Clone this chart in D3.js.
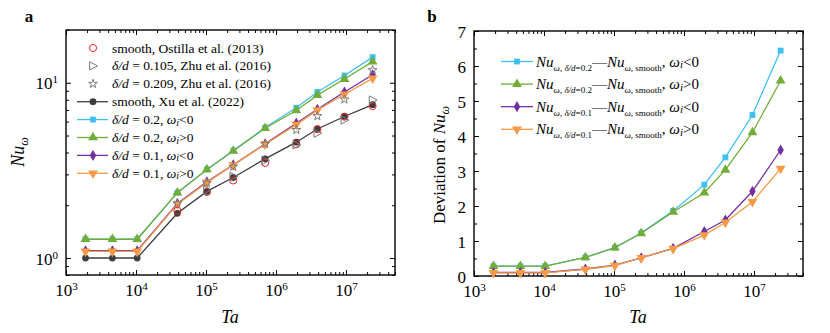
<!DOCTYPE html>
<html><head><meta charset="utf-8">
<script src="https://cdn.jsdelivr.net/npm/d3@7"></script>
<style>
html,body{margin:0;padding:0;background:#fff;}
svg{display:block;font-family:"Liberation Serif","Times New Roman",serif;}
</style></head>
<body><svg id="chart" width="830" height="333"></svg>
<script>
// ---------- data ----------
const ta = [1.9e3, 4.6e3, 1.04e4, 3.9e4, 1.03e5, 2.45e5, 7e5, 1.95e6, 3.9e6, 9.5e6, 2.4e7];
const nuSmoothXu = [1.0, 1.0, 1.0, 1.80, 2.40, 2.88, 3.68, 4.58, 5.45, 6.42, 7.5];
const nuD02Neg   = [1.28, 1.28, 1.28, 2.36, 3.2, 4.1, 5.55, 7.2, 8.86, 11.0, 14.0];
const nuD02Pos   = [1.28, 1.28, 1.28, 2.36, 3.2, 4.08, 5.5, 6.95, 8.5, 10.5, 13.2];
const nuD01Neg   = [1.1, 1.1, 1.1, 2.05, 2.72, 3.4, 4.48, 5.88, 7.06, 8.86, 11.1];
const nuD01Pos   = [1.09, 1.09, 1.09, 2.03, 2.70, 3.4, 4.46, 5.77, 6.98, 8.6, 10.6];
const taOstilla  = [3.9e4, 1.03e5, 2.45e5, 7e5, 1.95e6, 3.9e6, 9.5e6, 2.4e7];
const nuOstilla  = [1.86, 2.38, 2.77, 3.49, 4.46, 5.43, 6.40, 7.36];
const taZhu105   = [1.03e5, 2.45e5, 7e5, 1.95e6, 3.9e6, 9.5e6, 2.4e7];
const nuZhu105   = [2.45, 2.92, 3.6, 4.42, 5.15, 6.13, 7.97];
const taZhu209   = [3.9e4, 1.03e5, 2.45e5, 7e5, 1.95e6, 3.9e6, 9.5e6, 2.4e7];
const nuZhu209   = [2.05, 2.68, 3.32, 4.48, 5.38, 6.46, 8.04, 11.8];
const devD02Neg  = [0.28, 0.28, 0.28, 0.53, 0.81, 1.23, 1.86, 2.61, 3.39, 4.6, 6.44];
const devD02Pos  = [0.28, 0.28, 0.28, 0.53, 0.81, 1.22, 1.83, 2.38, 3.03, 4.1, 5.58];
const devD01Neg  = [0.10, 0.10, 0.10, 0.20, 0.31, 0.52, 0.79, 1.27, 1.60, 2.42, 3.6];
const devD01Pos  = [0.09, 0.09, 0.09, 0.19, 0.30, 0.52, 0.78, 1.17, 1.53, 2.12, 3.07];
const xMajorTicks = [1e3, 1e4, 1e5, 1e6, 1e7];
const yMajorTicksA = [1, 10];
const yTicksB = [0, 1, 2, 3, 4, 5, 6, 7];

// ---------- styles ----------
const FONT = "Liberation Serif";
const C = {black:"#3d3d3d", cyan:"#3fc1ef", green:"#72ad3a", purple:"#7330a0", orange:"#f79a46", red:"#e8262b", grey:"#7a7a7a"};
const svg = d3.select("#chart");

function minorLog(lo, hi){
  const out=[];
  for(let e=Math.floor(Math.log10(lo)); e<=Math.ceil(Math.log10(hi)); e++){
    for(let k=2;k<=9;k++){const v=k*Math.pow(10,e); if(v>=lo*0.999 && v<=hi*1.001) out.push(v);}
  }
  return out;
}
function supLabels(g){
  g.selectAll(".tick text").each(function(d){
    const t=d3.select(this); t.text(null);
    t.append("tspan").text("10");
    t.append("tspan").attr("dy","-0.55em").attr("font-size","11px").text(Math.round(Math.log10(d)));
  });
}
function styleAxis(g){
  g.attr("font-family",FONT).attr("font-size",17);
  g.select(".domain").remove();
  g.selectAll(".tick line").attr("stroke","#000").attr("stroke-width",1);
  g.selectAll(".tick text").attr("fill","#000").attr("font-size","17px").attr("font-family",FONT);
}
function triRight(size){
  const s=size; return `M${s*0.6},0L${-s*0.45},${-s*0.55}L${-s*0.45},${s*0.55}Z`;
}
const sym = {
  square: d3.symbol(d3.symbolSquare, 34)(),
  triUp: d3.symbol(d3.symbolTriangle, 42)(),
  triDown: d3.symbol(d3.symbolTriangle, 42)(),
  diamond: d3.symbol(d3.symbolDiamond, 36)(),
  circle: d3.symbol(d3.symbolCircle, 36)(),
  ocircle: d3.symbol(d3.symbolCircle, 40)(),
  star: d3.symbol(d3.symbolStar, 24)(),
  triR: triRight(7.5)
};
function marker(g, type, x, y, color){
  const p=g.append("path").attr("d",sym[type]).attr("transform",`translate(${x},${y})${type==="triDown"?" rotate(180)":""}`);
  if(type==="ocircle"||type==="star"||type==="triR"){
    p.attr("fill","none").attr("stroke",color).attr("stroke-width",1);
  } else p.attr("fill",color);
}
function series(g, xs, ys, x, y, color, type, withLine){
  if(withLine){
    g.append("path").datum(xs.map((d,i)=>[d,ys[i]]))
      .attr("d", d3.line().x(d=>x(d[0])).y(d=>y(d[1])))
      .attr("fill","none").attr("stroke",color).attr("stroke-width",1.3);
  }
  xs.forEach((d,i)=>marker(g,type,x(d),y(ys[i]),color));
}
function yBottom(y){return y.range()[0];}
function yTop(y){return y.range()[1];}

function frameAxes(g, x, y, yMajor, yMinor, yLog, xMin){
  const b=g.append("g").attr("transform",`translate(0,${yBottom(y)})`)
    .call(d3.axisBottom(x).tickValues(xMajorTicks).tickSize(-5).tickSizeOuter(0).tickPadding(9));
  styleAxis(b); supLabels(b);
  const bm=g.append("g").attr("transform",`translate(0,${yBottom(y)})`)
    .call(d3.axisBottom(x).tickValues(xMin).tickSize(-3).tickSizeOuter(0).tickFormat(""));
  styleAxis(bm);
  const t=g.append("g").attr("transform",`translate(0,${yTop(y)})`)
    .call(d3.axisTop(x).tickValues(xMajorTicks).tickSize(-5).tickSizeOuter(0).tickFormat(""));
  styleAxis(t);
  const tm=g.append("g").attr("transform",`translate(0,${yTop(y)})`)
    .call(d3.axisTop(x).tickValues(xMin).tickSize(-3).tickSizeOuter(0).tickFormat(""));
  styleAxis(tm);
  const la=d3.axisLeft(y).tickValues(yMajor).tickSize(-5).tickSizeOuter(0).tickPadding(8);
  if(!yLog) la.tickFormat(d3.format("d"));
  const l=g.append("g").attr("transform",`translate(${x.range()[0]},0)`).call(la);
  styleAxis(l); if(yLog) supLabels(l);
  l.selectAll(".tick text").attr("dy","0.36em");
  const lm=g.append("g").attr("transform",`translate(${x.range()[0]},0)`)
    .call(d3.axisLeft(y).tickValues(yMinor).tickSize(-3).tickSizeOuter(0).tickFormat(""));
  styleAxis(lm);
  const r=g.append("g").attr("transform",`translate(${x.range()[1]},0)`)
    .call(d3.axisRight(y).tickValues(yMajor).tickSize(-5).tickSizeOuter(0).tickFormat(""));
  styleAxis(r);
  const rm=g.append("g").attr("transform",`translate(${x.range()[1]},0)`)
    .call(d3.axisRight(y).tickValues(yMinor).tickSize(-3).tickSizeOuter(0).tickFormat(""));
  styleAxis(rm);
  g.append("rect").attr("x",x.range()[0]).attr("y",yTop(y))
    .attr("width",x.range()[1]-x.range()[0]).attr("height",yBottom(y)-yTop(y))
    .attr("fill","none").attr("stroke","#000").attr("stroke-width",1.4);
}

// ---------- panel a ----------
const xA = d3.scaleLog().domain([1e3, Math.pow(10,7.7)]).range([66,395]);
const yA = d3.scaleLog().domain([0.8, 20]).range([275,30]);
const gA = svg.append("g");
const xMinTicks = minorLog(1e3, Math.pow(10,7.7)).filter(v=>!xMajorTicks.includes(v));
const yMinA = minorLog(0.8, 20).filter(v=>!yMajorTicksA.includes(v));

frameAxes(gA, xA, yA, yMajorTicksA, yMinA, true, xMinTicks);

const dA = gA.append("g");
series(dA, ta, nuSmoothXu, xA, yA, C.black, "circle", true);
series(dA, ta, nuD02Neg, xA, yA, C.cyan, "square", true);
series(dA, ta, nuD02Pos, xA, yA, C.green, "triUp", true);
series(dA, ta, nuD01Neg, xA, yA, C.purple, "diamond", true);
series(dA, ta, nuD01Pos, xA, yA, C.orange, "triDown", true);
series(dA, taOstilla, nuOstilla, xA, yA, C.red, "ocircle", false);
series(dA, taZhu105, nuZhu105, xA, yA, C.grey, "triR", false);
series(dA, taZhu209, nuZhu209, xA, yA, C.grey, "star", false);

// legend a
const legA = [
  {type:"ocircle", color:C.red, line:false, txt:[["smooth, Ostilla et al. (2013)"]]},
  {type:"triR", color:C.grey, line:false, txt:[["δ/d","i"],[" = 0.105, Zhu et al. (2016)"]]},
  {type:"star", color:C.grey, line:false, txt:[["δ/d","i"],[" = 0.209, Zhu et al. (2016)"]]},
  {type:"circle", color:C.black, line:true, txt:[["smooth, Xu et al. (2022)"]]},
  {type:"square", color:C.cyan, line:true, txt:[["δ/d","i"],[" = 0.2, "],["ω","i"],["i","sub"],["<0","back"]]},
  {type:"triUp", color:C.green, line:true, txt:[["δ/d","i"],[" = 0.2, "],["ω","i"],["i","sub"],[">0","back"]]},
  {type:"diamond", color:C.purple, line:true, txt:[["δ/d","i"],[" = 0.1, "],["ω","i"],["i","sub"],["<0","back"]]},
  {type:"triDown", color:C.orange, line:true, txt:[["δ/d","i"],[" = 0.1, "],["ω","i"],["i","sub"],[">0","back"]]}
];
legA.forEach((e,i)=>{
  const yy = 48 + i*17.9;
  if(e.line) gA.append("line").attr("x1",77).attr("x2",108).attr("y1",yy).attr("y2",yy).attr("stroke",e.color).attr("stroke-width",1.3);
  marker(gA, e.type, 93, yy, e.color);
  const t = gA.append("text").attr("x",112).attr("y",yy+4.5).attr("font-size","13.5px").attr("font-family",FONT).attr("fill","#000");
  e.txt.forEach(p=>{
    const s=t.append("tspan").text(p[0]);
    if(p[1]==="i") s.attr("font-style","italic");
    if(p[1]==="sub") s.attr("font-style","italic").attr("font-size","10px").attr("dy","1.5");
    if(p[1]==="back") s.attr("dy","-1.5");
  });
});

// axis titles a
const ytA = gA.append("text").attr("transform","translate(24,152) rotate(-90)").attr("text-anchor","middle").attr("font-size","18px").attr("font-family",FONT);
ytA.append("tspan").attr("font-style","italic").text("Nu");
ytA.append("tspan").attr("font-style","italic").attr("font-size","12px").attr("dy","4").text("ω");
gA.append("text").attr("x",230).attr("y",323).attr("text-anchor","middle").attr("font-size","18px").attr("font-family",FONT).attr("font-style","italic").text("Ta");
gA.append("text").attr("x",29).attr("y",22).attr("text-anchor","middle").attr("font-size","17px").attr("font-family",FONT).attr("font-weight","bold").text("a");

// ---------- panel b ----------
const xB = d3.scaleLog().domain([1e3, Math.pow(10,7.7)]).range([474,803]);
const yB = d3.scaleLinear().domain([0,7]).range([276,31]);
const gB = svg.append("g");
const yMinB = d3.range(0.5,7,1);
frameAxes(gB, xB, yB, yTicksB, yMinB, false, xMinTicks);

const dB = gB.append("g");
series(dB, ta, devD02Neg, xB, yB, C.cyan, "square", true);
series(dB, ta, devD02Pos, xB, yB, C.green, "triUp", true);
series(dB, ta, devD01Neg, xB, yB, C.purple, "diamond", true);
series(dB, ta, devD01Pos, xB, yB, C.orange, "triDown", true);

const legB = [
  {type:"square", color:C.cyan, sub:"0.2", sign:"<0"},
  {type:"triUp", color:C.green, sub:"0.2", sign:">0"},
  {type:"diamond", color:C.purple, sub:"0.1", sign:"<0"},
  {type:"triDown", color:C.orange, sub:"0.1", sign:">0"}
];
legB.forEach((e,i)=>{
  const yy = 61.5 + i*22.6;
  gB.append("line").attr("x1",501).attr("x2",533).attr("y1",yy).attr("y2",yy).attr("stroke",e.color).attr("stroke-width",1.3);
  marker(gB, e.type, 517, yy, e.color);
  const t = gB.append("text").attr("x",536).attr("y",yy+5).attr("font-size","15px").attr("font-family",FONT).attr("fill","#000");
  t.append("tspan").attr("font-style","italic").text("Nu");
  t.append("tspan").attr("font-size","9px").attr("dy","4").attr("font-style","italic").text("ω");
  t.append("tspan").attr("font-size","9px").text(", ");
  t.append("tspan").attr("font-size","9px").attr("font-style","italic").text("δ/d");
  t.append("tspan").attr("font-size","9px").text("=" + e.sub);
  t.append("tspan").attr("dy","-4").text("—");
  t.append("tspan").attr("font-style","italic").text("Nu");
  t.append("tspan").attr("font-size","9px").attr("dy","4").attr("font-style","italic").text("ω");
  t.append("tspan").attr("font-size","9px").text(", smooth");
  t.append("tspan").attr("dy","-4").text(", ");
  t.append("tspan").attr("font-style","italic").text("ω");
  t.append("tspan").attr("font-style","italic").attr("font-size","11px").attr("dy","1.5").text("i");
  t.append("tspan").attr("dy","-1.5").text(e.sign);
});

const ytB = gB.append("text").attr("transform","translate(445,165) rotate(-90)").attr("text-anchor","middle").attr("font-size","17px").attr("font-family",FONT);
ytB.append("tspan").text("Deviation of ");
ytB.append("tspan").attr("font-style","italic").text("Nu");
ytB.append("tspan").attr("font-style","italic").attr("font-size","12px").attr("dy","4").text("ω");
gB.append("text").attr("x",638).attr("y",323).attr("text-anchor","middle").attr("font-size","18px").attr("font-family",FONT).attr("font-style","italic").text("Ta");
gB.append("text").attr("x",432).attr("y",22).attr("text-anchor","middle").attr("font-size","17px").attr("font-family",FONT).attr("font-weight","bold").text("b");
</script></body></html>
